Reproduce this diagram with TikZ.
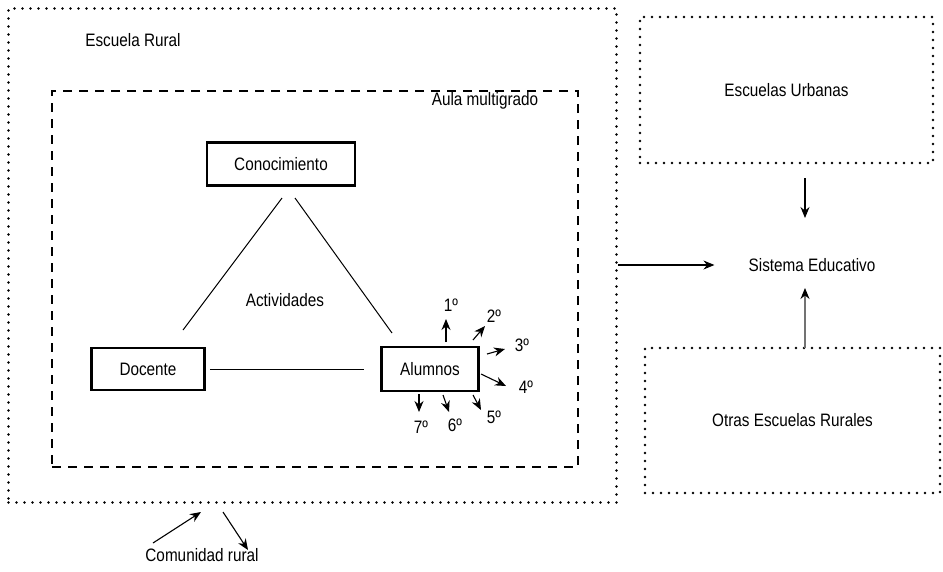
\documentclass[tikz,border=0pt]{standalone}
\usepackage{fontspec}
\setmainfont[FakeStretch=0.85]{Liberation Sans}
\usetikzlibrary{arrows.meta}
\begin{document}
\begin{tikzpicture}[x=1pt,y=-1pt,
  every node/.style={font=\fontsize{18}{21}\selectfont, inner sep=0pt},
  dotbox/.style={draw, line width=2.6pt, dash pattern=on 0pt off 8pt, line cap=round},
  dashbox/.style={draw, line width=2pt, dash pattern=on 9pt off 7pt},
  thickbox/.style={draw, line width=2.5pt},
  arr/.style={-{Stealth[length=11pt,width=9pt]}, line width=1.1pt},
  garr/.style={-{Stealth[length=11pt,width=9pt,color=black]}, line width=1.2pt, draw=black!55},
  thin/.style={line width=1pt}]
\useasboundingbox (0,0) rectangle (943,571);
% containers
\node[dotbox, minimum width=608pt, minimum height=494pt] (rural) at (312.5,255.5) {};
\node (ruraltext) at (133,40) {Escuela Rural};
\node[dashbox, minimum width=526pt, minimum height=376pt] (aula) at (315,279) {};
\node (aulatext) at (485,101) {Aula multigrado};
% triangle
\node[thickbox, minimum width=148pt, minimum height=43pt] (con) at (281,164) {Conocimiento};
\node[thickbox, minimum width=113pt, minimum height=42pt] (doc) at (148,369) {Docente};
\node[thickbox, minimum width=97pt, minimum height=44pt] (alu) at (430,369) {Alumnos};
\node (act) at (285,300) {Actividades};
\coordinate (cl) at (282,198);
\coordinate (cr) at (295,198);
\coordinate (dl) at (183,330);
\coordinate (ar) at (392,333);
\draw[thin] (cl) -- (dl);
\draw[thin] (cr) -- (ar);
\draw[thin, shorten <=4pt, shorten >=16pt] (doc.east) -- (alu.west);
% grades
\node (g1) at (451,305) {1º};
\node (g2) at (494,316) {2º};
\node (g3) at (522,345) {3º};
\node (g4) at (526,387) {4º};
\node (g5) at (494,417) {5º};
\node (g6) at (455,425) {6º};
\node (g7) at (421,427) {7º};
\coordinate (s1) at (446,342); \coordinate (e1) at (446,319);
\coordinate (s2) at (473,340); \coordinate (e2) at (485,326);
\coordinate (s3) at (487,354); \coordinate (e3) at (505,349);
\coordinate (s4) at (481,374); \coordinate (e4) at (506,386);
\coordinate (s5) at (473,395); \coordinate (e5) at (481,410);
\coordinate (s6) at (443,395); \coordinate (e6) at (449,412);
\coordinate (s7) at (419,394); \coordinate (e7) at (419,412);
\foreach \i in {1,...,7} {\draw[arr] (s\i) -- (e\i);}
% community
\node (com) at (202,555) {Comunidad rural};
\coordinate (c1s) at (153,543); \coordinate (c1e) at (201,512);
\coordinate (c2s) at (223,512); \coordinate (c2e) at (248,550);
\draw[arr] (c1s) -- (c1e);
\draw[arr] (c2s) -- (c2e);
% right side
\node[dotbox, minimum width=293pt, minimum height=146pt] (urb) at (786.5,90) {Escuelas Urbanas};
\node[dotbox, minimum width=295pt, minimum height=145pt] (otr) at (792.5,420.5) {Otras Escuelas Rurales};
\node (sis) at (812,265) {Sistema Educativo};
\coordinate (u1) at (805,178); \coordinate (u2) at (805,218);
\draw[arr] (u1) -- (u2);
\coordinate (o1) at (805,348); \coordinate (o2) at (805,288);
\draw[garr] (o1) -- (o2);
\draw[arr, shorten >=34pt] (rural.east |- sis.west) -- (sis.west);
\end{tikzpicture}
\end{document}
